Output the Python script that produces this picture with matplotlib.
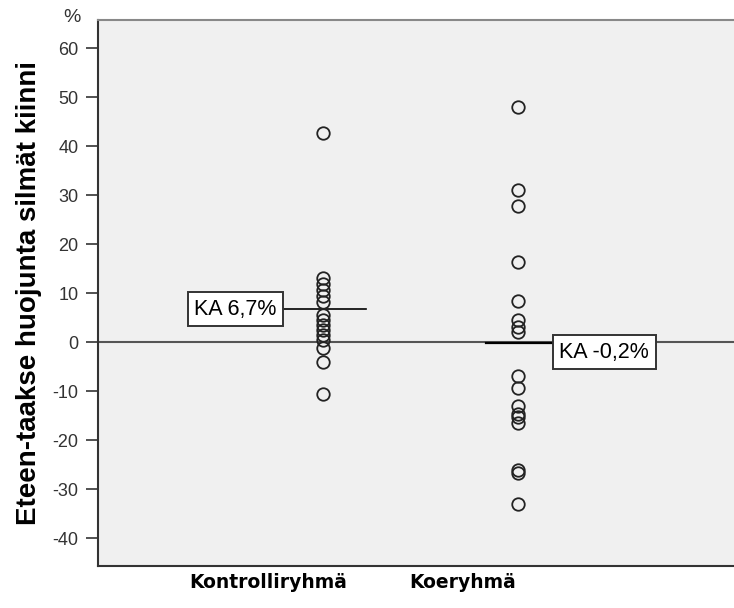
import numpy as np
import matplotlib
matplotlib.use('Agg')
import matplotlib.pyplot as plt
import matplotlib.transforms as mtransforms

# Data (% values)
groups = ['Kontrolliryhmä', 'Koeryhmä']
control = [42.7, 13.0, 11.8, 10.6, 9.4, 8.2, 5.5, 4.5, 3.5, 2.4, 1.4, 0.4, -1.3, -4.0, -10.5]
koe = [48.0, 31.0, 27.8, 16.3, 8.4, 4.6, 3.1, 2.1, -6.9, -9.4, -13.0, -14.6, -15.2,
       -16.5, -26.1, -26.7, -33.1]
means = [6.7, -0.2]
mean_labels = ['KA 6,7%', 'KA -0,2%']
yticks = [-40, -30, -20, -10, 0, 10, 20, 30, 40, 50, 60]

plt.rcParams['font.family'] = ['Liberation Sans', 'DejaVu Sans']

fig = plt.figure(figsize=(7.34, 6.08), dpi=100)
ax = fig.add_axes([0.1335, 0.069, 0.8665, 0.898])
ax.set_facecolor('#f0f0f0')

xpos = [1, 2]
ax.set_xlim(-0.154, 3.108)
ax.set_ylim(-45.7, 65.7)

# zero reference line
ax.axhline(0, color='#555555', lw=1.5, zorder=1)

# points
for x, vals in zip(xpos, [control, koe]):
    ax.plot([x] * len(vals), vals, 'o', ms=9, mfc='none', mec='#222222', mew=1.3, zorder=3)

# mean lines with labels
ax.plot([0.8, 1.22], [means[0], means[0]], color='black', lw=1.2, zorder=2)
ax.plot([1.835, 2.18], [means[1], means[1]], color='black', lw=1.6, zorder=2)
box = dict(boxstyle='square,pad=0.3', fc='white', ec='#333333', lw=1.4)
ax.text(0.762, means[0], mean_labels[0], ha='right', va='center', fontsize=15.5, bbox=box, zorder=4)
ax.text(2.213, means[1] - 1.9, mean_labels[1], ha='left', va='center', fontsize=15.5, bbox=box, zorder=4)

# axes styling
ax.set_yticks(yticks)
ax.set_yticklabels([str(t) for t in yticks], fontsize=13, color='#333333')
ax.tick_params(axis='y', direction='out', length=9, width=1.2, pad=5, color='#333333')
ax.set_xticks(xpos)
ax.set_xticklabels(groups, fontsize=13.5, fontweight='bold', family='DejaVu Sans')
ax.tick_params(axis='x', length=0, pad=5)
shift = mtransforms.ScaledTranslation(-55 / 100, 0, fig.dpi_scale_trans)
for lab in ax.get_xticklabels():
    lab.set_transform(lab.get_transform() + shift)

for side in ['left', 'bottom']:
    ax.spines[side].set_color('#333333')
    ax.spines[side].set_linewidth(1.5)
ax.spines['top'].set_color('#888888')
ax.spines['top'].set_linewidth(1.5)
ax.spines['right'].set_visible(False)

ax.set_ylabel('Eteen-taakse huojunta silmät kiinni', fontsize=20, fontweight='bold')
ax.yaxis.set_label_coords(-0.088, 0.5)
fig.text(0.098, 0.972, '%', fontsize=14, color='#333333', ha='center', va='center')

fig.savefig('out.png', dpi=100)
